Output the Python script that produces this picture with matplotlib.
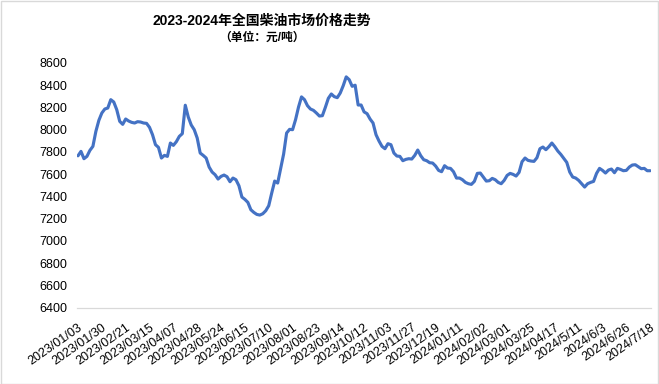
import numpy as np
import matplotlib.pyplot as plt
from matplotlib.patches import Rectangle

plt.rcParams['font.family'] = ['Liberation Sans', 'Noto Sans CJK SC', 'DejaVu Sans']

# tick labels on the category axis (one every 8 points)
date_labels = ['2023/01/03', '2023/01/30', '2023/02/21', '2023/03/15', '2023/04/07',
               '2023/04/28', '2023/05/24', '2023/06/15', '2023/07/10', '2023/08/01',
               '2023/08/23', '2023/09/14', '2023/10/12', '2023/11/03', '2023/11/27',
               '2023/12/19', '2024/01/11', '2024/02/02', '2024/03/01', '2024/03/25',
               '2024/04/17', '2024/5/11', '2024/6/3', '2024/6/26', '2024/7/18']

# diesel price (yuan/ton)
prices_2023a = [7765, 7805, 7739, 7760, 7814, 7850, 7985, 8084, 8150, 8186,
                8195, 8270, 8249, 8180, 8075, 8048, 8096, 8078, 8066, 8060,
                8072, 8069, 8060, 8057, 8021, 7955, 7865, 7841, 7745, 7769,
                7760, 7880, 7859, 7892, 7940, 7964, 8220, 8114, 8042, 8000,
                7925, 7790, 7769, 7745, 7664, 7619, 7595, 7556]
prices_2023b = [7580, 7592, 7577, 7532, 7565, 7550, 7496, 7394, 7373, 7346,
                7280, 7256, 7238, 7232, 7244, 7271, 7316, 7430, 7538, 7520,
                7652, 7781, 7970, 8003, 8000, 8090, 8204, 8295, 8270, 8216,
                8186, 8174, 8150, 8123, 8126, 8201, 8282, 8321, 8297, 8288,
                8330, 8396, 8475, 8450, 8390, 8400, 8222, 8222]
prices_2023c = [8160, 8144, 8096, 8060, 7955, 7898, 7850, 7829, 7874, 7865,
                7790, 7763, 7760, 7721, 7733, 7739, 7736, 7769, 7817, 7766,
                7730, 7721, 7703, 7700, 7673, 7634, 7622, 7676, 7655, 7652,
                7622, 7565, 7565, 7550, 7526, 7514, 7508, 7535, 7607, 7610,
                7574, 7538, 7541, 7562, 7550, 7526, 7514, 7544]
prices_2024 = [7589, 7607, 7598, 7583, 7616, 7712, 7745, 7724, 7718, 7715,
               7748, 7829, 7844, 7820, 7847, 7880, 7847, 7808, 7778, 7742,
               7706, 7619, 7574, 7565, 7544, 7514, 7484, 7514, 7526, 7535,
               7607, 7652, 7634, 7610, 7637, 7646, 7613, 7652, 7643, 7631,
               7634, 7664, 7682, 7685, 7667, 7649, 7652, 7631, 7631]

prices = prices_2023a + prices_2023b + prices_2023c + prices_2024
x = np.arange(len(prices))

fig = plt.figure(figsize=(6.59, 3.84), dpi=100)
ax = fig.add_axes([0.117, 0.199, 0.871, 0.637])

ax.plot(x, prices, color='#4472C4', linewidth=2.25, solid_capstyle='round')

ax.set_ylim(6400, 8600)
ax.set_yticks(np.arange(6400, 8601, 200))
ax.set_xlim(-0.3, len(prices) - 1 + 0.3)
ax.set_xticks(x[::8])
ax.set_xticklabels(date_labels, rotation=35, ha='right', va='top',
                   rotation_mode='anchor')

for s in ['top', 'right', 'left']:
    ax.spines[s].set_visible(False)
ax.spines['bottom'].set_color('#d9d9d9')
ax.spines['bottom'].set_linewidth(0.9)
ax.tick_params(axis='both', length=0, labelsize=9, colors='black')
ax.tick_params(axis='y', pad=7)
ax.tick_params(axis='x', pad=10)

fig.text(0.398, 0.947, '2023-2024年全国柴油市场价格走势', ha='center', va='center',
         fontsize=10, fontweight='bold')
fig.text(0.398, 0.901, '（单位：元/吨）', ha='center', va='center',
         fontsize=8.5, fontweight='bold')

fig.patches.append(Rectangle((0.001, 0.001), 0.997, 0.996, transform=fig.transFigure,
                             fill=False, edgecolor='#d9d9d9', linewidth=1))

fig.savefig('out.png', dpi=100)
